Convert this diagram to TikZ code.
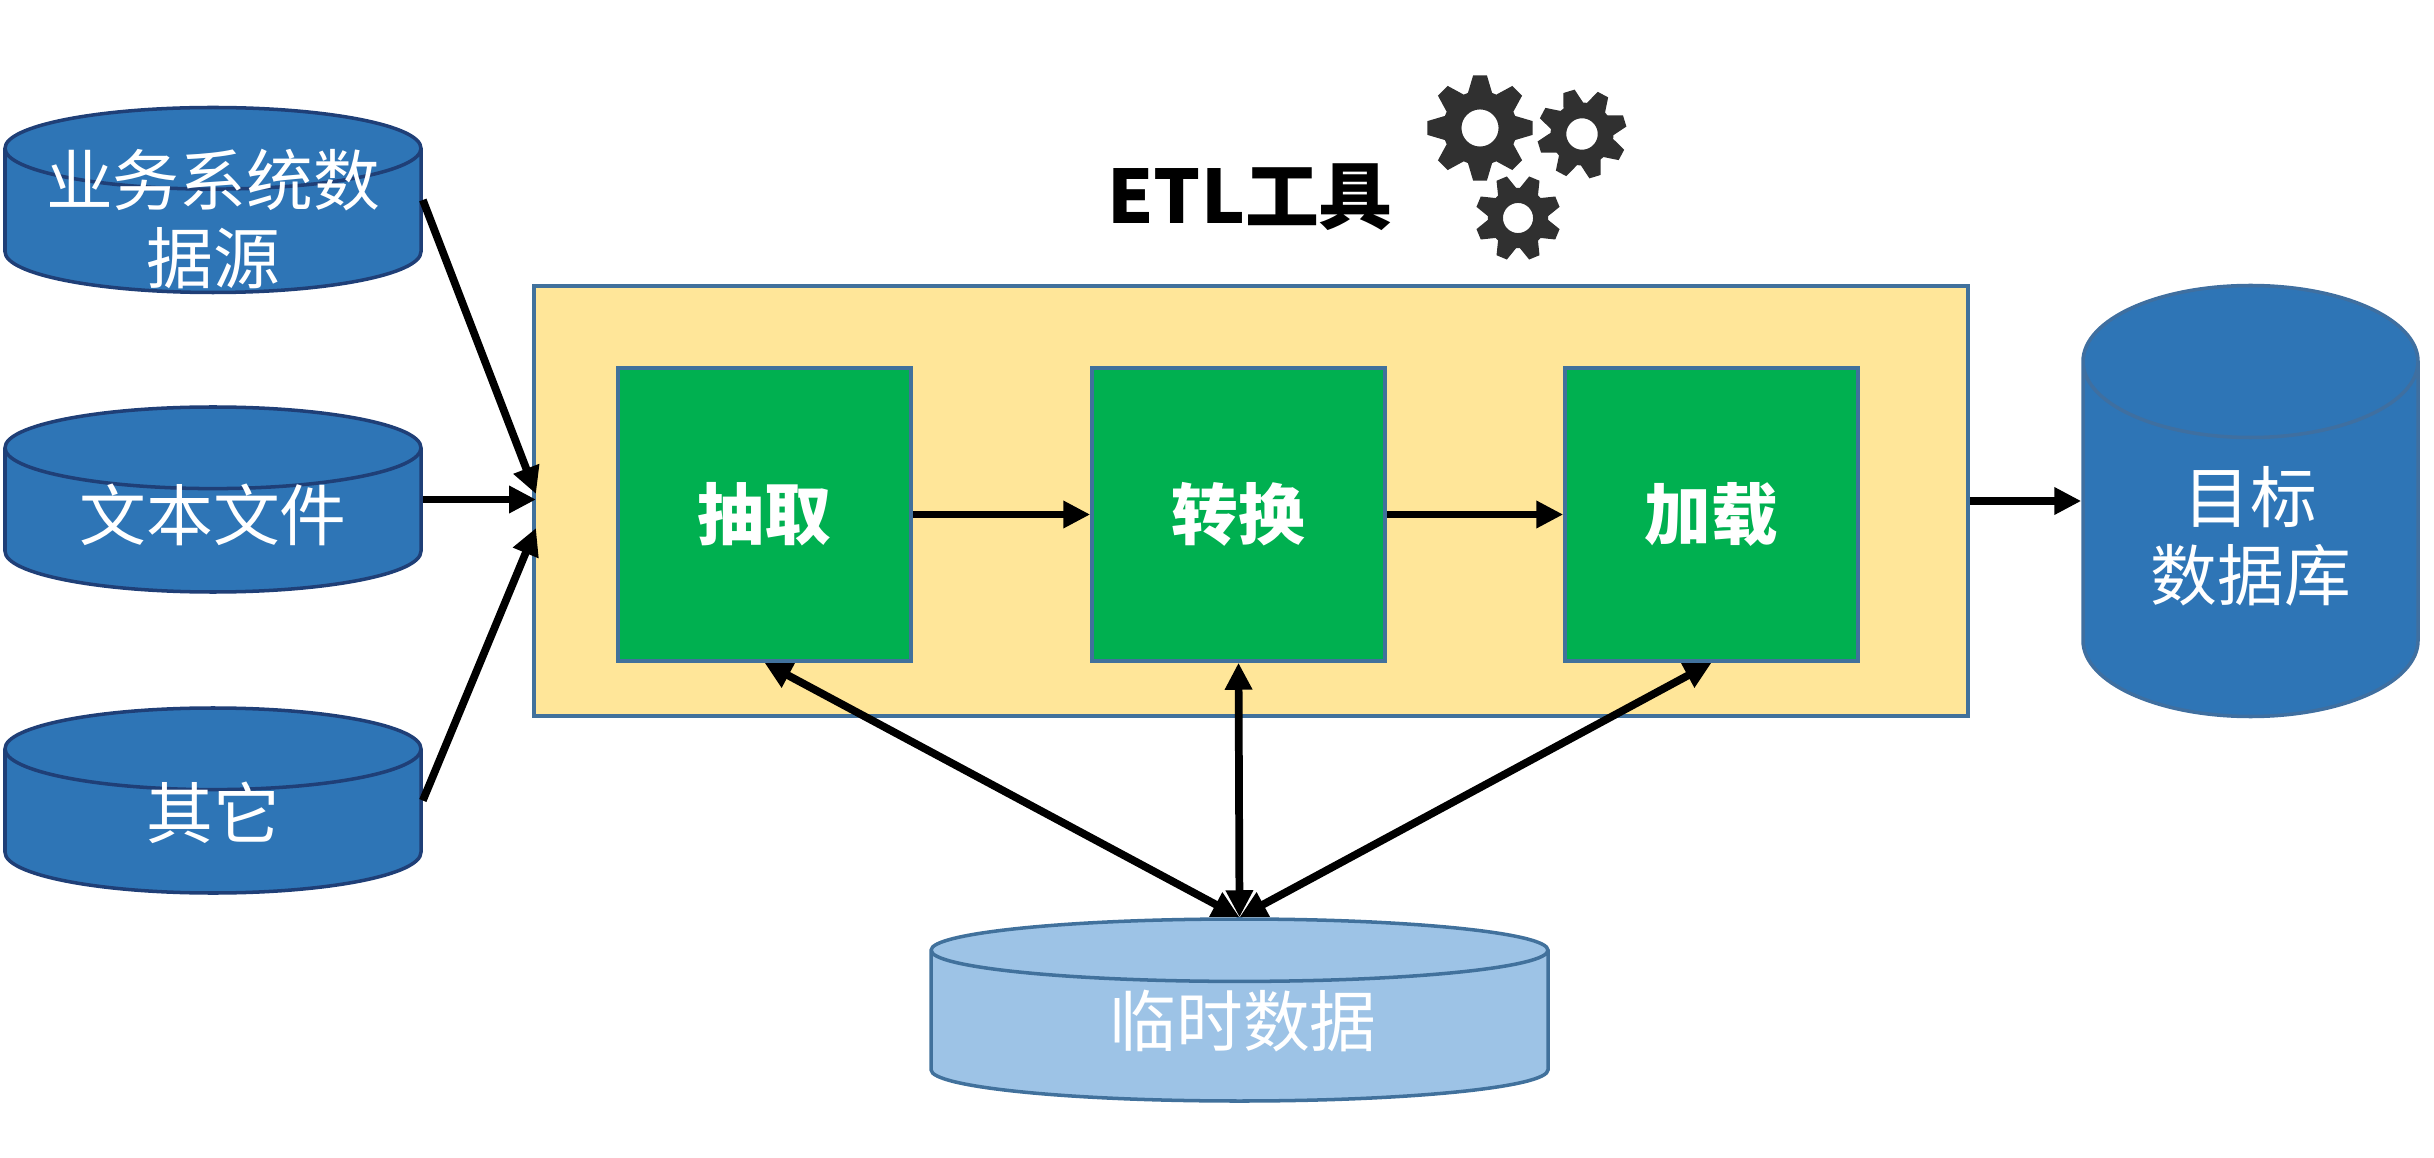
\documentclass[tikz,border=0pt]{standalone}
\usepackage{fontspec}
\setmainfont{Noto Sans CJK SC}
\usetikzlibrary{shapes.geometric,arrows.meta}
\definecolor{dbblue}{HTML}{2E75B6}
\definecolor{dbline}{HTML}{1F3F77}
\definecolor{tgtline}{HTML}{3F6FA0}
\definecolor{tmpblue}{HTML}{9DC3E6}
\definecolor{boxline}{HTML}{41719C}
\definecolor{etlyellow}{HTML}{FFE699}
\definecolor{boxgreen}{HTML}{00B050}
\definecolor{geargray}{HTML}{303030}
\newcommand{\dbtext}[2][0.12cm]{\smash{\raisebox{-#1}{\begin{tabular}{@{}c@{}}#2\end{tabular}}}}
\newcommand{\gearicon}[4]{
	\begin{scope}[shift={(#1,#2)},rotate=#4,scale=#3]
		\fill [geargray,even odd rule] (-19:0.7) foreach \a in {0,45,...,315} {-- (\a-19:0.7) -- (\a-7.5:1) -- (\a+7.5:1) -- (\a+19:0.7)} -- cycle (0,0) circle (0.35);
	\end{scope}
}
\begin{document}
\begin{tikzpicture}[scale=1]
			\tikzstyle{db} = [shape=cylinder, shape border rotate=90, anchor=shape center, draw, inner sep=0, align=center, text=white, font=\fontsize{19}{21}\selectfont]
			\tikzstyle{src} = [db, draw=dbline, fill=dbblue, line width=1pt, text width=3.4cm, aspect=0.24, minimum width=4.16cm, minimum height=1.85cm]
			\tikzstyle{b} = [draw=boxline, fill=boxgreen, line width=1pt, minimum width=2.93cm, minimum height=2.93cm, text=white, font=\fontsize{19}{21}\selectfont\bfseries]
			\tikzstyle{a} = [line width=2.2pt, >={Triangle[length=0.27cm,width=0.26cm]}]
			\useasboundingbox (0,0) rectangle (24.34,11.57);

			\node [src] (src1) at (2.13,9.57) {\dbtext[0.21cm]{业务系统数\\据源}};
			\node [src] (src2) at (2.13,6.575) {\dbtext[0.18cm]{文本文件}};
			\node [src] (src3) at (2.13,3.565) {\dbtext[0.15cm]{其它}};

			\node [draw=boxline, fill=etlyellow, line width=1pt, minimum width=14.34cm, minimum height=4.30cm] (etl) at (12.51,6.56) {};
			\node [b] (b1) at (7.645,6.425) {抽取};
			\node [b] (b2) at (12.385,6.425) {转换};
			\node [b] (b3) at (17.115,6.425) {加载};

			\node [db, draw=tgtline, fill=dbblue, line width=1pt, text width=2.0cm, aspect=0.76, minimum width=3.35cm, minimum height=4.31cm] (tgt) at (22.505,6.56) {\dbtext[0.2cm]{目标\\数据库}};
			\node [db, draw=boxline, fill=tmpblue, line width=1pt, text width=2.6cm, aspect=0.24, minimum width=6.17cm, minimum height=1.82cm] (tmp) at (12.395,1.47) {\dbtext[0.18cm]{临时数据}};

			\node [font=\fontsize{21}{24}\selectfont\bfseries] (title) at (12.5,9.6) {ETL工具};
			\gearicon{14.80}{10.29}{0.53}{0}
			\gearicon{15.82}{10.23}{0.45}{17}
			\gearicon{15.18}{9.39}{0.43}{22.5}

			\coordinate (in1) at (5.36,6.63);
			\coordinate (in2) at (5.36,6.575);
			\coordinate (in3) at (5.36,6.29);

			\draw [a,->] (src1.shape center -| src1.east) -- (in1);
			\draw [a,->] (src2.shape center -| src2.east) -- (in2);
			\draw [a,->] (src3.shape center -| src3.east) -- (in3);

			\draw [a,->] (b1) -- (b2);
			\draw [a,->] (b2) -- (b3);
			\draw [a,->] (etl.east) -- (tgt.shape center -| tgt.west);

			\draw [a,<->] (b1.south) -- (tmp.north);
			\draw [a,<->] (b2.south) -- (tmp.north);
			\draw [a,<->] (b3.south) -- (tmp.north);

		\end{tikzpicture}
\end{document}
